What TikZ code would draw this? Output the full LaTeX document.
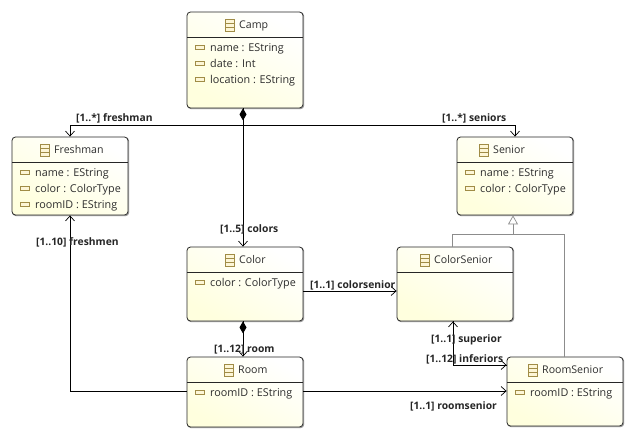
\documentclass[tikz,border=0pt]{standalone}
\usepackage{fontspec}
\setmainfont{Open Sans}
\usetikzlibrary{arrows.meta,calc}
\definecolor{boxyellow}{RGB}{255,255,222}
\definecolor{icongold}{RGB}{160,140,70}
\definecolor{icontint}{RGB}{253,246,214}
\definecolor{inktext}{RGB}{45,45,45}
\definecolor{genline}{RGB}{140,140,140}
\tikzset{
  umlbox/.style={draw=black!85,line width=0.8pt,rounded corners=3.5pt,top color=white,bottom color=boxyellow,shading angle=-30,inner sep=0pt},
  boxshadow/.style={draw=black!45,line width=0.8pt,rounded corners=3.5pt},
  titletext/.style={font=\fontsize{10.6}{12}\selectfont,text=inktext,anchor=base west,inner sep=0pt},
  attrtext/.style={font=\fontsize{10.8}{12}\selectfont,text=inktext,anchor=base west,inner sep=0pt},
  reflabel/.style={font=\fontsize{10.3}{12}\selectfont\bfseries,text=black!85,inner sep=0pt,anchor=base west},
  conn/.style={draw=black,line width=0.8pt},
  openhead/.style={-{Straight Barb[length=5pt,width=9pt,line width=0.7pt]}},
  diamondtail/.style={{Diamond[length=12pt,width=7pt,fill=black]}-},
  genconn/.style={draw=genline,line width=0.8pt},
  gentip/.style={-{Triangle[open,length=9pt,width=10pt,fill=white,line width=0.7pt]}},
}
% #1 name, #2 x1, #3 y1, #4 x2, #5 y2, #6 icon x, #7 title
\newcommand{\classbox}[7]{%
  \draw[boxshadow] (#2+0.8,#3+0.8) rectangle (#4+0.8,#5+0.8);
  \node[umlbox,minimum width=#4pt-#2pt,minimum height=#5pt-#3pt] (#1) at ({(#2+#4)/2},{(#3+#5)/2}) {};
  \draw[black!85,line width=0.8pt] (#2,#3+25) -- (#4,#3+25);
  \draw[icongold,fill=icontint,line width=0.6pt] (#6,#3+7) rectangle (#6+9,#3+19);
  \draw[icongold,line width=0.6pt] (#6,#3+11) -- (#6+9,#3+11) (#6,#3+15) -- (#6+9,#3+15);
  \node[titletext] (#1-title) at (#6+14,#3+16.5) {#7};
}
% #1 name, #2 icon x, #3 y, #4 text
\newcommand{\attrrow}[4]{%
  \draw[icongold,fill=icontint,line width=0.6pt] (#2,#3-1.9) rectangle (#2+9,#3+1.9);
  \node[attrtext] (#1) at (#2+15,#3+4) {#4};
}
\begin{document}
\begin{tikzpicture}[x=1pt,y=-1pt]
\useasboundingbox (0,0) rectangle (637,440);
\fill[white] (0,0) rectangle (637,440);

\classbox{camp}{187}{12}{303}{108}{225}{Camp}
\attrrow{camp-a}{195}{47}{name : EString}
\attrrow{camp-b}{195}{63}{date : Int}
\attrrow{camp-c}{195}{79}{location : EString}

\classbox{freshman}{12}{137}{128}{215}{40}{Freshman}
\attrrow{freshman-a}{20}{172}{name : EString}
\attrrow{freshman-b}{20}{188}{color : ColorType}
\attrrow{freshman-c}{20}{204}{roomID : EString}

\classbox{senior}{457}{137}{573}{215}{479}{Senior}
\attrrow{senior-a}{465}{172}{name : EString}
\attrrow{senior-b}{465}{188}{color : ColorType}

\classbox{color}{187}{247}{303}{321}{225}{Color}
\attrrow{color-a}{195}{282}{color : ColorType}

\classbox{colorsenior}{397}{247}{513}{321}{420}{ColorSenior}

\classbox{room}{187}{357}{303}{427}{224}{Room}
\attrrow{room-a}{195}{392}{roomID : EString}

\classbox{roomsenior}{507}{357}{623}{426}{528}{RoomSenior}
\attrrow{roomsenior-a}{515}{392}{roomID : EString}

% containment
\coordinate (campfoot) at ([xshift=-2pt]camp.south);
\draw[conn,openhead] (campfoot) ++(0,17) -| (freshman.north);
\draw[conn,openhead] (campfoot) ++(0,17) -| (senior.north);
\draw[conn,diamondtail] (campfoot) -- ++(0,17);
\draw[conn,openhead] (campfoot) -- ([xshift=-2pt]color.north);
\draw[conn,diamondtail] ([xshift=-2pt]color.south) -- ++(0,12);
\draw[conn,openhead] ([xshift=-2pt]color.south) -- ([xshift=-2pt]room.north);

% references
\draw[conn,openhead] (color.east |- 0,291) -- (colorsenior.west |- 0,291);
\draw[conn,openhead] (room.west |- 0,391) -| (freshman.south);
\draw[conn,openhead] (room.east |- 0,391) -- (roomsenior.west |- 0,391);
\coordinate (bendsup) at (453,365);
\draw[conn,openhead] (roomsenior.west |- bendsup) -- (bendsup) -- (bendsup |- colorsenior.south);
\draw[conn,openhead] (bendsup |- colorsenior.south) -- (bendsup) -- (roomsenior.west |- bendsup);

% generalisation
\coordinate (genbar) at (513,234);
\draw[genconn,gentip] (genbar) -- (genbar |- senior.south);
\draw[genconn] ([xshift=-3pt]colorsenior.north) |- (genbar);
\draw[genconn] (564,357) |- (genbar);

% labels
\node[reflabel] (l1) at (76,121) {[1..*] freshman};
\node[reflabel] (l2) at (442,121) {[1..*] seniors};
\node[reflabel] (l3) at (220,232) {[1..5] colors};
\node[reflabel] (l4) at (36,245) {[1..10] freshmen};
\node[reflabel] (l5) at (310,288) {[1..1] colorsenior};
\node[reflabel] (l6) at (214,352) {[1..12] room};
\node[reflabel] (l7) at (431,342) {[1..1] superior};
\node[reflabel] (l8) at (426,362) {[1..12] inferiors};
\node[reflabel] (l9) at (410,409) {[1..1] roomsenior};
\end{tikzpicture}
\end{document}
